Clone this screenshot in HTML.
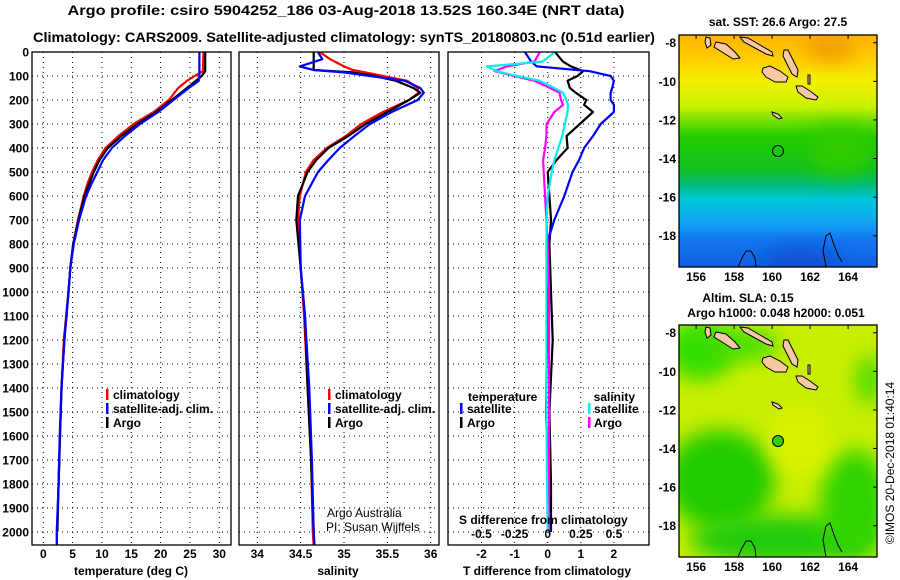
<!DOCTYPE html>
<html><head><meta charset="utf-8"><style>
html,body{margin:0;padding:0;background:#fff}
svg{display:block;font-family:"Liberation Sans",sans-serif}
.b{font-weight:bold;font-size:14px}
.t{font-weight:bold;font-size:12px}
</style></head><body>
<svg id="c" width="900" height="580" viewBox="0 0 900 580">
<defs>
<linearGradient id="sstg" x1="0" y1="0" x2="0" y2="1">
<stop offset="0" stop-color="#ffb400"/><stop offset="0.1" stop-color="#ffcc00"/><stop offset="0.2" stop-color="#f2f000"/><stop offset="0.31" stop-color="#c8f000"/><stop offset="0.38" stop-color="#66dd00"/><stop offset="0.44" stop-color="#22cc00"/><stop offset="0.58" stop-color="#12c020"/><stop offset="0.65" stop-color="#00bb80"/><stop offset="0.71" stop-color="#00c8dc"/><stop offset="0.8" stop-color="#12a8f0"/><stop offset="0.88" stop-color="#1478f0"/><stop offset="1" stop-color="#1060e0"/>
</linearGradient>
<filter id="bl" x="-50%" y="-50%" width="200%" height="200%"><feGaussianBlur stdDeviation="10"/></filter>
<clipPath id="cm1"><rect x="679" y="35" width="198" height="232"/></clipPath>
<clipPath id="cm2"><rect x="679" y="325" width="198" height="232"/></clipPath>
<clipPath id="cp1"><rect x="32" y="52" width="199" height="493"/></clipPath>
<clipPath id="cp2"><rect x="239" y="52" width="200" height="493"/></clipPath>
<clipPath id="cp3"><rect x="448" y="52" width="201" height="493"/></clipPath>
</defs>
<text class="b" x="346" y="15" text-anchor="middle" textLength="557" lengthAdjust="spacingAndGlyphs">Argo profile: csiro 5904252_186 03-Aug-2018 13.52S 160.34E (NRT data)</text>
<text class="b" x="344" y="42" text-anchor="middle" textLength="622" lengthAdjust="spacingAndGlyphs">Climatology: CARS2009. Satellite-adjusted climatology: synTS_20180803.nc (0.51d earlier)</text>
<g id="grid"></g>
<g id="curves"></g>
<g id="axes"></g>
<g class="t">
<rect x="106" y="389" width="2.5" height="11" fill="#f00"/><text x="113" y="399">climatology</text>
<rect x="106" y="403" width="2.5" height="11" fill="#00f"/><text x="113" y="413">satellite-adj. clim.</text>
<rect x="106" y="417" width="2.5" height="11" fill="#000"/><text x="113" y="427">Argo</text>
</g>
<g class="t">
<rect x="328" y="389" width="2.5" height="11" fill="#f00"/><text x="335" y="399">climatology</text>
<rect x="328" y="403" width="2.5" height="11" fill="#00f"/><text x="335" y="413">satellite-adj. clim.</text>
<rect x="328" y="417" width="2.5" height="11" fill="#000"/><text x="335" y="427">Argo</text>
</g>
<g font-size="12">
<text x="327" y="517">Argo Australia</text><text x="326" y="531">PI: Susan Wijffels</text>
</g>
<g class="t">
<text x="468" y="401">temperature</text>
<rect x="460" y="403" width="2.5" height="11" fill="#00f"/><text x="467" y="413">satellite</text>
<rect x="460" y="417" width="2.5" height="11" fill="#000"/><text x="467" y="427">Argo</text>
<text x="635" y="401" text-anchor="end">salinity</text>
<rect x="588" y="403" width="2.5" height="11" fill="#0ee"/><text x="594" y="413">satellite</text>
<rect x="588" y="417" width="2.5" height="11" fill="#f0f"/><text x="594" y="427">Argo</text>
<text x="459" y="524">S difference from climatology</text>
</g>
<text class="t" x="131" y="575" text-anchor="middle">temperature (deg C)</text>
<text class="t" x="338" y="575" text-anchor="middle">salinity</text>
<text class="t" x="547" y="575" text-anchor="middle">T difference from climatology</text>
<text class="t" x="778" y="26" text-anchor="middle">sat. SST: 26.6 Argo: 27.5</text>
<g clip-path="url(#cm1)">
<rect x="679" y="35" width="198" height="232" fill="url(#sstg)"/>
<ellipse cx="830" cy="48" rx="25" ry="12" fill="#f09800" filter="url(#bl)"/>
<ellipse cx="800" cy="265" rx="40" ry="16" fill="#0a50d0" filter="url(#bl)"/>
<ellipse cx="840" cy="150" rx="30" ry="25" fill="#30cc00" filter="url(#bl)"/>
<g id="isl1"></g>
</g>
<rect x="679" y="35" width="198" height="232" fill="none" stroke="#000" stroke-width="1.3"/>
<circle cx="778" cy="151" r="5.5" fill="none" stroke="#000" stroke-width="1"/>
<text class="t" x="748" y="302" text-anchor="middle">Altim. SLA: 0.15</text>
<text class="t" x="776" y="317" text-anchor="middle">Argo h1000: 0.048 h2000: 0.051</text>
<g clip-path="url(#cm2)">
<rect x="679" y="325" width="198" height="232" fill="#c8ee00"/>
<ellipse cx="700" cy="350" rx="35" ry="30" fill="#33dd00" filter="url(#bl)"/>
<ellipse cx="740" cy="345" rx="40" ry="15" fill="#44dd00" filter="url(#bl)"/>
<ellipse cx="720" cy="480" rx="55" ry="50" fill="#22cc00" filter="url(#bl)"/>
<ellipse cx="780" cy="540" rx="90" ry="25" fill="#22cc10" filter="url(#bl)"/>
<ellipse cx="855" cy="505" rx="35" ry="55" fill="#33d400" filter="url(#bl)"/>
<ellipse cx="870" cy="380" rx="15" ry="25" fill="#55dd00" filter="url(#bl)"/>
<ellipse cx="800" cy="440" rx="30" ry="35" fill="#d8f200" filter="url(#bl)"/>
<g id="isl2"></g>
</g>
<rect x="679" y="325" width="198" height="232" fill="none" stroke="#000" stroke-width="1.3"/>
<circle cx="778" cy="441" r="5.5" fill="#33cc00" stroke="#000" stroke-width="1"/>
<g id="maxes"></g>
<text x="894" y="463" font-size="12" text-anchor="middle" transform="rotate(-90 894 463)">©IMOS 20-Dec-2018 01:40:14</text>
</svg>
<script>
const tDepth = [0,80,100,120,150,200,250,300,350,400,450,500,550,600,700,800,900,1000,1200,1400,1600,1800,2000,2054];
const tClim = [27.3,27.2,25.8,24.5,23.0,21.4,18.8,15.4,12.8,10.6,9.3,8.3,7.5,6.9,5.9,5.1,4.6,4.3,3.5,3.1,2.85,2.6,2.3,2.3];
const tSat = [26.6,26.6,26.6,26.5,24.8,22.2,19.6,16.5,13.9,11.7,10.2,9.2,8.2,7.3,6.1,5.2,4.6,4.3,3.6,3.1,2.8,2.6,2.3,2.3];
const tArgo = [27.6,27.6,27.0,26.0,24.5,21.9,19.2,16.0,13.3,11.0,9.6,8.6,7.8,7.0,6.0,5.1,4.6,4.3,3.6,3.1,2.85,2.6,2.4,null];
const sDepth = [0,30,60,75,85,100,120,150,170,200,250,300,350,400,450,500,600,700,900,1100,1400,1700,2000,2054];
const sClim = [34.72,34.84,35.0,35.1,35.25,35.45,35.73,35.85,35.86,35.75,35.45,35.2,35.02,34.8,34.65,34.56,34.49,34.47,34.50,34.54,34.58,34.62,34.64,34.65];
const sSat = [34.70,34.75,34.49,34.65,35.0,35.3,35.7,35.88,35.92,35.85,35.55,35.3,35.12,34.95,34.82,34.7,34.55,34.49,34.5,34.55,34.6,34.63,34.65,34.66];
const sArgo = [34.65,34.65,34.65,34.65,35.1,35.35,35.6,35.8,35.88,35.75,35.5,35.25,35.05,34.82,34.68,34.58,34.47,34.45,34.50,34.55,34.58,34.62,34.65,null];
const dDepth = [0,40,60,80,100,120,150,170,200,220,250,300,350,400,450,500,600,700,800,1000,1200,1500,1800,2000];
const dTsat = [-0.69,-0.5,-0.33,1.27,1.9,2.0,1.95,1.9,1.9,2.0,2.0,1.6,1.37,1.1,0.95,0.75,0.5,0.2,-0.03,0.0,-0.02,-0.05,0.02,0.05];
const dTargo = [0.22,0.46,0.7,1.07,0.9,0.6,0.67,0.85,1.17,1.1,1.37,0.97,0.57,0.6,0.27,0.0,0.05,0.1,0.05,0.1,0.15,0.05,0.1,0.1];
const dSsat = [0.055,-0.04,-0.46,-0.385,-0.23,-0.06,0.05,0.116,0.14,0.153,0.15,0.13,0.11,0.08,0.05,0.03,0.0,-0.008,-0.01,-0.01,-0.01,-0.01,-0.005,0.0];
const dSargo = [-0.06,-0.1,-0.31,-0.4,-0.25,-0.1,0.017,0.09,0.1,0.116,0.05,-0.008,-0.01,-0.02,-0.035,-0.03,-0.02,-0.01,0.0,0.01,0.01,0.01,0.01,0.01];
const depthTicks = [0,100,200,300,400,500,600,700,800,900,1000,1100,1200,1300,1400,1500,1600,1700,1800,1900,2000];
const tTicks = [0,5,10,15,20,25,30];
const sTicks = [34,34.5,35,35.5,36];
const dtTicks = [-2,-1,0,1,2];
const dsTicks = [-0.5,-0.25,0,0.25,0.5];
const latTicks = [-8,-10,-12,-14,-16,-18];
const lonTicks = [156,158,160,162,164];

const NS='http://www.w3.org/2000/svg';
const yD = d => 52 + d*0.24;
const xT = v => 43.3 + v*5.867;
const xS = v => 257.3 + (v-34)*86.7;
const xDT = v => 547.7 + v*33.1;
const xDS = v => 547.7 + v*132.5;
const mapX = lon => 679 + (lon-155.1)*19;
const mapY = (lat,top) => top + (-7.6 - lat)*19.3;
function el(tag, attrs, parent){const e=document.createElementNS(NS,tag);for(const k in attrs)e.setAttribute(k,attrs[k]);parent.appendChild(e);return e;}
const grid=document.getElementById('grid'), curves=document.getElementById('curves'), axes=document.getElementById('axes'), maxes=document.getElementById('maxes');

const panels=[{x0:32,x1:231,ticks:tTicks,sx:xT,name:'temperature'},{x0:239,x1:439,ticks:sTicks,sx:xS,name:'salinity'},{x0:448,x1:649,ticks:dtTicks,sx:xDT,name:'t-difference'}];
panels.forEach(p=>{
  depthTicks.forEach(d=>{
    const l=el('line',{x1:p.x0,x2:p.x1,y1:yD(d),y2:yD(d),stroke:'#000','stroke-width':1,'stroke-dasharray':'1 4'},grid);
    
    
  });
  p.ticks.forEach(v=>{
    const l=el('line',{x1:p.sx(v),x2:p.sx(v),y1:52,y2:545,stroke:'#000','stroke-width':1,'stroke-dasharray':'1 4'},grid);
    
    
    const t=el('text',{x:p.sx(v),y:558,'text-anchor':'middle',class:'t'},axes);
    t.textContent=String(v);
    
    
  });
  const r=el('rect',{x:p.x0,y:52,width:p.x1-p.x0,height:493,fill:'none',stroke:'#000','stroke-width':1.3},axes);
  
  
});
dsTicks.forEach(v=>{
  const t=el('text',{x:xDS(v),y:538,'text-anchor':'middle',class:'t'},axes);
  t.textContent=String(v);
  
  
});
depthTicks.forEach(d=>{
  const t=el('text',{x:29,y:yD(d)+4.5,'text-anchor':'end',class:'t'},axes);
  t.textContent=String(d);
  
  
});

function series(depths, vals, sx, color, clip, name){
  let d='', started=false;
  for(let i=0;i<depths.length;i++){
    if(vals[i]===null||vals[i]===undefined) continue;
    d+=(started?'L':'M')+sx(vals[i]).toFixed(1)+','+yD(depths[i]).toFixed(1);
    started=true;
  }
  const p=el('path',{d:d,fill:'none',stroke:color,'stroke-width':2.2,'stroke-linejoin':'round','clip-path':'url(#'+clip+')'},curves);
  
  
}
series(tDepth,tClim,xT,'#f00','cp1','temperature-climatology-line');
series(tDepth,tArgo,xT,'#000','cp1','temperature-argo-line');
series(tDepth,tSat,xT,'#00f','cp1','temperature-satellite-line');
series(sDepth,sClim,xS,'#f00','cp2','salinity-climatology-line');
series(sDepth,sArgo,xS,'#000','cp2','salinity-argo-line');
series(sDepth,sSat,xS,'#00f','cp2','salinity-satellite-line');
series(dDepth,dTargo,xDT,'#000','cp3','t-diff-argo-line');
series(dDepth,dTsat,xDT,'#00f','cp3','t-diff-satellite-line');
series(dDepth,dSargo,xDS,'#f0f','cp3','s-diff-argo-line');
series(dDepth,dSsat,xDS,'#0ee','cp3','s-diff-satellite-line');

[35,325].forEach((top,mi)=>{
  latTicks.forEach(lat=>{
    const y=mapY(lat,top);
    const t=el('text',{x:676,y:y+4.5,'text-anchor':'end',class:'t'},maxes);
    t.textContent=String(lat);
    
    
    el('line',{x1:877,x2:873,y1:y,y2:y,stroke:'#000'},maxes);
  });
  lonTicks.forEach(lon=>{
    const x=mapX(lon);
    const t=el('text',{x:x,y:top+232+14,'text-anchor':'middle',class:'t'},maxes);
    t.textContent=String(lon);
    
    
    el('line',{x1:x,x2:x,y1:top,y2:top+4,stroke:'#000'},maxes);
  });
});
const isl=["740,37 748,38 760,45 772,52 773,56 766,54 755,48 744,42","716,42 726,44 735,52 740,58 733,59 722,52 714,47","706,37 710,38 711,45 707,48 705,42","763,68 770,66 780,71 788,77 786,82 775,82 766,77 762,72","784,50 788,50 793,60 798,70 797,77 792,74 787,64 783,56","796,86 802,86 810,91 818,97 816,100 806,98 798,92","772,112 778,114 782,118 779,119 773,115","808,75 810,75 810,84 808,84"];
const outl=["826,267 823,250 826,236 830,233 834,245 838,255 842,262","738,267 742,258 746,251 751,251 755,258 756,267"];
['isl1','isl2'].forEach((g,i)=>{
  const G=document.getElementById(g);
  const tr='translate(0,'+(i*290)+')';
  isl.forEach(pts=>{
    const p=el('polygon',{points:pts,fill:'#f8c8a0',stroke:'#000','stroke-width':1,transform:tr},G);
    
    
  });
  outl.forEach(pts=>{
    const p=el('polyline',{points:pts,fill:'none',stroke:'#000','stroke-width':1,transform:tr},G);
    
    
  });
});
</script>
</body></html>
